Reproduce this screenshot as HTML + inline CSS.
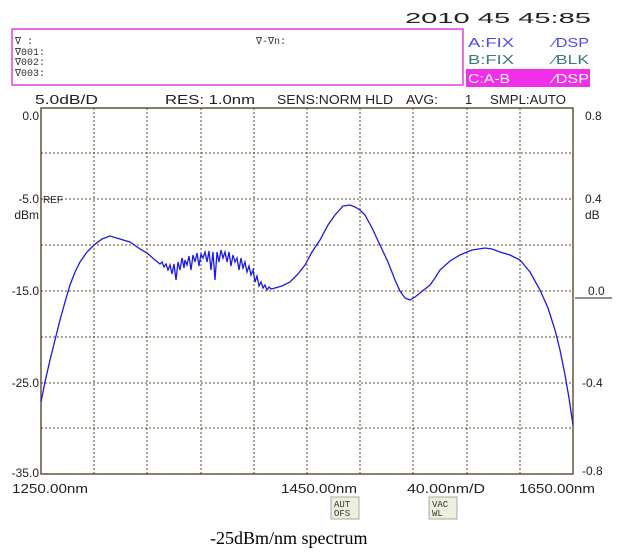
<!DOCTYPE html>
<html><head><style>
html,body{margin:0;padding:0;background:#fff;}
svg{display:block;}
.m{font-family:"Liberation Sans",sans-serif;font-size:13px;fill:#222;}
.s{font-family:"Liberation Mono",monospace;font-size:10px;fill:#333;}
</style></head><body>
<svg width="620" height="552" viewBox="0 0 620 552">
<text class="m" x="405" y="23" style="font-size:15px" textLength="186" lengthAdjust="spacingAndGlyphs">2010  45 45:85</text>
<rect x="12" y="29" width="451" height="56" fill="none" stroke="#e040e0" stroke-width="1.5"/>
<text class="s" x="15" y="44">∇    :</text>
<text class="s" x="15" y="55">∇001:</text>
<text class="s" x="15" y="65">∇002:</text>
<text class="s" x="15" y="76">∇003:</text>
<text class="s" x="256" y="44">∇-∇n:</text>
<text class="m" x="468" y="47" style="fill:#4a4af0" textLength="46" lengthAdjust="spacingAndGlyphs">A:FIX</text>
<text class="m" x="553" y="47" style="fill:#4a4af0" textLength="36" lengthAdjust="spacingAndGlyphs">⁄DSP</text>
<text class="m" x="468" y="64" style="fill:#3a7a7a" textLength="46" lengthAdjust="spacingAndGlyphs">B:FIX</text>
<text class="m" x="553" y="64" style="fill:#3a7a7a" textLength="36" lengthAdjust="spacingAndGlyphs">⁄BLK</text>
<rect x="466" y="69" width="124" height="18" fill="#f030e8"/>
<text class="m" x="468" y="83" style="fill:#fff" textLength="42" lengthAdjust="spacingAndGlyphs">C:A-B</text>
<text class="m" x="553" y="83" style="fill:#fff" textLength="36" lengthAdjust="spacingAndGlyphs">⁄DSP</text>
<g class="m">
<text x="35" y="104" textLength="63" lengthAdjust="spacingAndGlyphs">5.0dB/D</text>
<text x="165" y="104" textLength="90" lengthAdjust="spacingAndGlyphs">RES: 1.0nm</text>
<text x="277" y="104" textLength="116" lengthAdjust="spacingAndGlyphs">SENS:NORM HLD</text>
<text x="406" y="104" textLength="32" lengthAdjust="spacingAndGlyphs">AVG:</text>
<text x="465" y="104">1</text>
<text x="490" y="104" textLength="76" lengthAdjust="spacingAndGlyphs">SMPL:AUTO</text>
</g>
<g stroke="#5a4a2a" stroke-width="1" stroke-dasharray="2,2">
<line x1="94" y1="108" x2="94" y2="474"/><line x1="147" y1="108" x2="147" y2="474"/>
<line x1="201" y1="108" x2="201" y2="474"/><line x1="254" y1="108" x2="254" y2="474"/>
<line x1="307" y1="108" x2="307" y2="474"/><line x1="360" y1="108" x2="360" y2="474"/>
<line x1="413" y1="108" x2="413" y2="474"/><line x1="467" y1="108" x2="467" y2="474"/>
<line x1="520" y1="108" x2="520" y2="474"/>
<line x1="41" y1="153" x2="573" y2="153"/><line x1="41" y1="199" x2="573" y2="199"/>
<line x1="41" y1="245" x2="573" y2="245"/><line x1="41" y1="291" x2="573" y2="291"/>
<line x1="41" y1="337" x2="573" y2="337"/><line x1="41" y1="383" x2="573" y2="383"/>
<line x1="41" y1="428" x2="573" y2="428"/>
</g>
<rect x="41" y="108" width="532" height="366" fill="none" stroke="#4a3a1a" stroke-width="1.3"/>
<g class="m" style="font-size:12px">
<text x="39" y="120" text-anchor="end">0.0</text>
<text x="39" y="203" text-anchor="end">-5.0</text>
<text x="43" y="203" style="font-size:10px">REF</text>
<text x="39" y="219" text-anchor="end">dBm</text>
<text x="39" y="295" text-anchor="end">-15.0</text>
<text x="39" y="387" text-anchor="end">-25.0</text>
<text x="39" y="477" text-anchor="end">-35.0</text>
<text x="585" y="120">0.8</text>
<text x="585" y="203">0.4</text>
<text x="585" y="219">dB</text>
<text x="588" y="295">0.0</text>
<text x="582" y="387">-0.4</text>
<text x="582" y="475">-0.8</text>
</g>
<line x1="575" y1="298" x2="612" y2="298" stroke="#222" stroke-width="1"/>
<polyline fill="none" stroke="#1a1ae6" stroke-width="1.3" points="41,402 45,382 50,360 55,340 60,320 65,302 70,285 75,272 80,262 87,252 94,245 102,239 110,236 120,239 130,242 140,249 147,253 155,260 160,264 162,262 164,267 166,264 168,270 170,265 172,274 174,264 176,280 178,262 180,270 182,258 184,268 185,260 187,265 189,256 191,270 193,255 195,262 197,253 199,266 201,254 203,258 205,252 207,262 209,251 211,270 213,252 215,280 217,252 219,262 221,250 223,258 225,252 227,262 229,252 231,266 233,255 235,262 237,258 239,270 241,258 243,268 245,262 247,272 249,266 251,275 253,270 255,282 257,276 259,286 261,282 263,288 265,285 267,290 269,287 271,289 275,288 282,286 290,282 298,274 305,265 312,252 320,240 328,225 335,215 343,206 350,205 355,207 360,210 365,215 372,228 380,245 388,262 395,280 400,291 405,298 410,300 415,297 420,293 425,289 430,285 435,278 440,270 450,261 460,255 472,250 485,248 492,249 500,252 510,255 520,260 530,272 540,290 548,308 555,330 560,350 565,375 569,398 573,425"/>
<g class="m">
<text x="12" y="493" textLength="76" lengthAdjust="spacingAndGlyphs">1250.00nm</text>
<text x="281" y="493" textLength="76" lengthAdjust="spacingAndGlyphs">1450.00nm</text>
<text x="407" y="493" textLength="78" lengthAdjust="spacingAndGlyphs">40.00nm/D</text>
<text x="519" y="493" textLength="76" lengthAdjust="spacingAndGlyphs">1650.00nm</text>
</g>
<rect x="331" y="497" width="28" height="22" fill="#eeeedd" stroke="#aaa"/>
<text class="s" x="334" y="507" style="font-size:9px">AUT</text><text class="s" x="334" y="516" style="font-size:9px">OFS</text>
<rect x="429" y="497" width="28" height="22" fill="#eeeedd" stroke="#aaa"/>
<text class="s" x="432" y="507" style="font-size:9px">VAC</text><text class="s" x="432" y="516" style="font-size:9px">WL</text>
<text x="210" y="544" font-family="Liberation Serif, serif" font-size="18" fill="#000">-25dBm/nm spectrum</text>
</svg>
</body></html>
